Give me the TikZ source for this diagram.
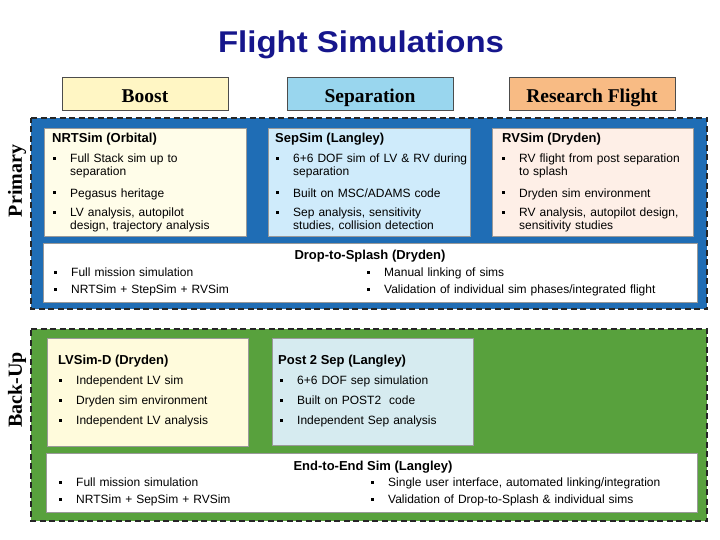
\documentclass[tikz,border=0pt]{standalone}
\usepackage{fontspec}
\setmainfont{Liberation Serif}
\setsansfont{Liberation Sans}
\usepackage{tikz}
\usetikzlibrary{calc}
\definecolor{titleblue}{RGB}{22,22,140}
\definecolor{boostfill}{RGB}{255,246,196}
\definecolor{sepfill}{RGB}{153,214,238}
\definecolor{rffill}{RGB}{248,187,132}
\definecolor{primblue}{RGB}{31,109,181}
\definecolor{backgreen}{RGB}{88,161,61}
\definecolor{nrtfill}{RGB}{255,253,233}
\definecolor{sepsimfill}{RGB}{207,235,251}
\definecolor{rvfill}{RGB}{254,239,231}
\definecolor{lvfill}{RGB}{255,251,220}
\definecolor{postfill}{RGB}{214,235,240}

\begin{document}
\begin{tikzpicture}[x=1pt,y=-1pt,
    region/.style={draw=black!85,line width=1.6pt,dash pattern=on 6pt off 3.5pt},
    simbox/.style={draw=gray!80,line width=0.8pt},
    headbox/.style={draw=gray!60!black,line width=1pt},
    headlabel/.style={anchor=base,font=\rmfamily\bfseries\fontsize{19.5}{22}\selectfont},
    sidelabel/.style={font=\rmfamily\bfseries\fontsize{20}{22}\selectfont,rotate=90},
    simtitle/.style={anchor=base west,inner sep=0pt,font=\sffamily\bfseries\fontsize{13}{15}\selectfont},
    item/.style={anchor=base west,inner sep=0pt,text width=300pt,align=left,font=\sffamily\fontsize{12}{13}\selectfont},
    bul/.style={fill=black,inner sep=0pt,minimum size=3pt}]
    \useasboundingbox (0,0) rectangle (720,540);

    % title
    \node[anchor=base,font=\sffamily\bfseries\fontsize{30}{34}\selectfont,text=titleblue,xscale=1.1,transform shape] (title) at (361,53) {Flight Simulations};

    % phase headers
    \draw[headbox,fill=boostfill] (62,78) -- ++ (166,0) -- ++ (0,33) -- ++ (-166,0) -- cycle;
    \draw[headbox,fill=sepfill] (287,78) -- ++ (166,0) -- ++ (0,33) -- ++ (-166,0) -- cycle;
    \draw[headbox,fill=rffill] (509,78) -- ++ (166,0) -- ++ (0,33) -- ++ (-166,0) -- cycle;
    \node[headlabel] (boost) at (145,103) {Boost};
    \node[headlabel] (separation) at (370,103) {Separation};
    \node[headlabel] (research) at (592,103) {Research Flight};

    % primary
    \draw[region,fill=primblue] (31,118) -- ++ (676,0) -- ++ (0,191) -- ++ (-676,0) -- cycle;
    \draw[simbox,fill=nrtfill] (44,128) -- ++ (202,0) -- ++ (0,108) -- ++ (-202,0) -- cycle;
    \draw[simbox,fill=sepsimfill] (268,128) -- ++ (202,0) -- ++ (0,108) -- ++ (-202,0) -- cycle;
    \draw[simbox,fill=rvfill] (492,128) -- ++ (201,0) -- ++ (0,108) -- ++ (-201,0) -- cycle;
    \draw[simbox,fill=white] (43,243) -- ++ (654,0) -- ++ (0,59) -- ++ (-654,0) -- cycle;
    \node[sidelabel] (primary) at (17,181) {Primary};

    \node[simtitle] (nrt) at (52,143) {NRTSim (Orbital)};
    \node[item] (nrt1) at (70,163) {Full Stack sim up to\\separation};
    \node[item] (nrt2) at (70,197) {Pegasus heritage};
    \node[item] (nrt3) at (70,217) {LV analysis, autopilot\\design, trajectory analysis};

    \node[simtitle] (sep) at (275,143) {SepSim (Langley)};
    \node[item] (sep1) at (293,163) {6+6 DOF sim of LV \& RV during\\separation};
    \node[item] (sep2) at (293,197) {Built on MSC/ADAMS code};
    \node[item] (sep3) at (293,217) {Sep analysis, sensitivity\\studies, collision detection};

    \node[simtitle] (rv) at (502,143) {RVSim (Dryden)};
    \node[item] (rv1) at (519,163) {RV flight from post separation\\to splash};
    \node[item] (rv2) at (519,197) {Dryden sim environment};
    \node[item] (rv3) at (519,217) {RV analysis, autopilot design,\\sensitivity studies};

    \node[simtitle,anchor=base] (drop) at (370,259) {Drop-to-Splash (Dryden)};
    \node[item] (drop1) at (71,276) {Full mission simulation};
    \node[item] (drop2) at (71,293) {NRTSim + StepSim + RVSim};
    \node[item] (drop3) at (384,276) {Manual linking of sims};
    \node[item] (drop4) at (384,293) {Validation of individual sim phases/integrated flight};

    % back-up
    \draw[region,fill=backgreen] (31,329) -- ++ (676,0) -- ++ (0,192) -- ++ (-676,0) -- cycle;
    \draw[simbox,fill=lvfill] (47,338) -- ++ (201,0) -- ++ (0,108) -- ++ (-201,0) -- cycle;
    \draw[simbox,fill=postfill] (272,338) -- ++ (201,0) -- ++ (0,107) -- ++ (-201,0) -- cycle;
    \draw[simbox,fill=white] (46,453) -- ++ (651,0) -- ++ (0,59) -- ++ (-651,0) -- cycle;
    \node[sidelabel] (backup) at (17,390) {Back-Up};

    \node[simtitle] (lv) at (58,364) {LVSim-D (Dryden)};
    \node[item] (lv1) at (76,384) {Independent LV sim};
    \node[item] (lv2) at (76,404) {Dryden sim environment};
    \node[item] (lv3) at (76,424) {Independent LV analysis};

    \node[simtitle] (post) at (278,364) {Post 2 Sep (Langley)};
    \node[item] (post1) at (297,384) {6+6 DOF sep simulation};
    \node[item] (post2) at (297,404) {Built on POST2 \ code};
    \node[item] (post3) at (297,424) {Independent Sep analysis};

    \node[simtitle,anchor=base] (end) at (373,470) {End-to-End Sim (Langley)};
    \node[item] (end1) at (76,486) {Full mission simulation};
    \node[item] (end2) at (76,503) {NRTSim + SepSim + RVSim};
    \node[item] (end3) at (388,486) {Single user interface, automated linking/integration};
    \node[item] (end4) at (388,503) {Validation of Drop-to-Splash \& individual sims};

    % bullets
    \foreach \n in {nrt1,nrt2,nrt3,sep1,sep2,sep3,rv1,rv2,rv3,drop1,drop2,drop3,drop4,
                    lv1,lv2,lv3,post1,post2,post3,end1,end2,end3,end4}
        \node[bul] (\n-b) at ($(\n.base west)+(-16,-4)$) {};
\end{tikzpicture}
\end{document}
